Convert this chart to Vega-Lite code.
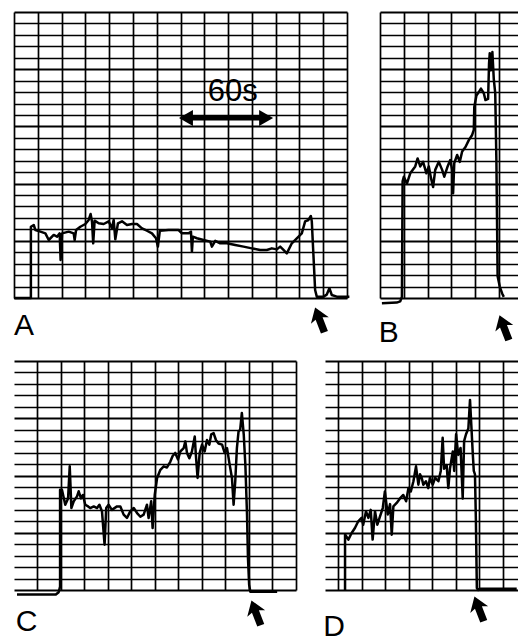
{
"$schema": "https://vega.github.io/schema/vega-lite/v6.json",
"padding": {"left": 12, "top": 12, "right": 0, "bottom": 0},
"background": "white",
"config": {"view": {"stroke": null}, "font": "Liberation Sans"},
"spacing": 12,
"datasets": {
"trace": [
{"panel":"A","x":0,"y":0},{"panel":"A","x":0.71,"y":0},{"panel":"A","x":0.71,"y":6.23},{"panel":"A","x":0.83,"y":6.38},{"panel":"A","x":0.9,"y":5.94},{"panel":"A","x":1.11,"y":5.8},{"panel":"A","x":1.32,"y":5.65},{"panel":"A","x":1.46,"y":5.07},{"panel":"A","x":1.67,"y":5.51},{"panel":"A","x":1.81,"y":5.36},{"panel":"A","x":1.92,"y":5.65},{"panel":"A","x":1.96,"y":3.32},{"panel":"A","x":2.02,"y":5.65},{"panel":"A","x":2.3,"y":5.8},{"panel":"A","x":2.51,"y":5.65},{"panel":"A","x":2.55,"y":5.07},{"panel":"A","x":2.61,"y":5.94},{"panel":"A","x":2.79,"y":6.23},{"panel":"A","x":3.0,"y":6.47},{"panel":"A","x":3.14,"y":6.82},{"panel":"A","x":3.22,"y":7.34},{"panel":"A","x":3.28,"y":6.67},{"panel":"A","x":3.33,"y":4.78},{"panel":"A","x":3.39,"y":6.76},{"panel":"A","x":3.56,"y":6.53},{"panel":"A","x":3.77,"y":6.47},{"panel":"A","x":3.98,"y":6.7},{"panel":"A","x":4.12,"y":6.09},{"panel":"A","x":4.19,"y":6.82},{"panel":"A","x":4.26,"y":5.13},{"panel":"A","x":4.37,"y":6.53},{"panel":"A","x":4.54,"y":6.7},{"panel":"A","x":4.75,"y":6.38},{"panel":"A","x":4.96,"y":6.47},{"panel":"A","x":5.17,"y":6.47},{"panel":"A","x":5.38,"y":6.09},{"panel":"A","x":5.59,"y":5.88},{"panel":"A","x":5.8,"y":5.65},{"panel":"A","x":5.97,"y":5.22},{"panel":"A","x":6.05,"y":4.49},{"panel":"A","x":6.13,"y":5.88},{"panel":"A","x":6.5,"y":5.94},{"panel":"A","x":6.92,"y":5.94},{"panel":"A","x":7.06,"y":5.65},{"panel":"A","x":7.34,"y":5.65},{"panel":"A","x":7.44,"y":5.8},{"panel":"A","x":7.48,"y":4.05},{"panel":"A","x":7.52,"y":5.36},{"panel":"A","x":7.69,"y":5.22},{"panel":"A","x":7.97,"y":5.07},{"panel":"A","x":8.25,"y":4.93},{"panel":"A","x":8.32,"y":4.49},{"panel":"A","x":8.46,"y":5.0},{"panel":"A","x":8.67,"y":4.78},{"panel":"A","x":8.95,"y":4.78},{"panel":"A","x":9.3,"y":4.63},{"panel":"A","x":9.65,"y":4.49},{"panel":"A","x":10.0,"y":4.34},{"panel":"A","x":10.35,"y":4.2},{"panel":"A","x":10.63,"y":4.2},{"panel":"A","x":10.84,"y":4.34},{"panel":"A","x":11.05,"y":4.25},{"panel":"A","x":11.19,"y":4.49},{"panel":"A","x":11.33,"y":4.2},{"panel":"A","x":11.47,"y":3.9},{"panel":"A","x":11.68,"y":4.78},{"panel":"A","x":11.89,"y":5.22},{"panel":"A","x":12.1,"y":5.65},{"panel":"A","x":12.24,"y":6.7},{"panel":"A","x":12.38,"y":6.82},{"panel":"A","x":12.48,"y":7.17},{"panel":"A","x":12.52,"y":6.7},{"panel":"A","x":12.66,"y":0.7},{"panel":"A","x":12.73,"y":0.12},{"panel":"A","x":13.01,"y":0.12},{"panel":"A","x":13.15,"y":0.3},{"panel":"A","x":13.26,"y":0.85},{"panel":"A","x":13.36,"y":0.26},{"panel":"A","x":13.57,"y":0.12},{"panel":"A","x":14.1,"y":0.12},
{"panel":"B","x":0.08,"y":-0.45},{"panel":"B","x":0.7,"y":-0.4},{"panel":"B","x":0.85,"y":-0.3},{"panel":"B","x":0.92,"y":0.1},{"panel":"B","x":0.95,"y":10.2},{"panel":"B","x":1.0,"y":10.6},{"panel":"B","x":1.13,"y":10.0},{"panel":"B","x":1.27,"y":10.9},{"panel":"B","x":1.48,"y":11.5},{"panel":"B","x":1.58,"y":12.2},{"panel":"B","x":1.69,"y":11.5},{"panel":"B","x":1.81,"y":11.9},{"panel":"B","x":1.95,"y":10.9},{"panel":"B","x":2.05,"y":11.5},{"panel":"B","x":2.14,"y":10.5},{"panel":"B","x":2.23,"y":9.7},{"panel":"B","x":2.32,"y":11.2},{"panel":"B","x":2.47,"y":11.9},{"panel":"B","x":2.61,"y":11.2},{"panel":"B","x":2.7,"y":10.6},{"panel":"B","x":2.84,"y":11.5},{"panel":"B","x":2.95,"y":12.06},{"panel":"B","x":3.03,"y":11.2},{"panel":"B","x":3.07,"y":9.15},{"panel":"B","x":3.12,"y":11.8},{"panel":"B","x":3.24,"y":12.5},{"panel":"B","x":3.35,"y":11.9},{"panel":"B","x":3.45,"y":12.8},{"panel":"B","x":3.59,"y":13.2},{"panel":"B","x":3.73,"y":13.8},{"panel":"B","x":3.87,"y":14.25},{"panel":"B","x":3.94,"y":14.7},{"panel":"B","x":3.96,"y":16.7},{"panel":"B","x":4.05,"y":17.7},{"panel":"B","x":4.15,"y":18.0},{"panel":"B","x":4.24,"y":18.3},{"panel":"B","x":4.36,"y":17.9},{"panel":"B","x":4.43,"y":17.3},{"panel":"B","x":4.54,"y":17.4},{"panel":"B","x":4.58,"y":20.5},{"panel":"B","x":4.61,"y":21.4},{"panel":"B","x":4.66,"y":19.9},{"panel":"B","x":4.72,"y":21.5},{"panel":"B","x":4.78,"y":19.1},{"panel":"B","x":4.84,"y":17.9},{"panel":"B","x":4.89,"y":11.8},{"panel":"B","x":4.92,"y":5.9},{"panel":"B","x":4.94,"y":1.9},{"panel":"B","x":5.03,"y":1.0},{"panel":"B","x":5.13,"y":0.4},{"panel":"B","x":5.2,"y":0.1},
{"panel":"C","x":-0.85,"y":-0.4},{"panel":"C","x":0.8,"y":-0.4},{"panel":"C","x":0.92,"y":-0.2},{"panel":"C","x":0.98,"y":0.3},{"panel":"C","x":0.98,"y":8.76},{"panel":"C","x":1.06,"y":8.76},{"panel":"C","x":1.2,"y":7.45},{"panel":"C","x":1.32,"y":8.0},{"panel":"C","x":1.39,"y":10.8},{"panel":"C","x":1.46,"y":7.16},{"panel":"C","x":1.56,"y":7.75},{"panel":"C","x":1.7,"y":8.18},{"panel":"C","x":1.77,"y":8.62},{"panel":"C","x":1.87,"y":8.0},{"panel":"C","x":1.95,"y":8.3},{"panel":"C","x":2.05,"y":7.45},{"panel":"C","x":2.17,"y":7.3},{"panel":"C","x":2.26,"y":7.16},{"panel":"C","x":2.41,"y":7.3},{"panel":"C","x":2.55,"y":7.16},{"panel":"C","x":2.65,"y":7.45},{"panel":"C","x":2.76,"y":6.87},{"panel":"C","x":2.87,"y":3.96},{"panel":"C","x":2.94,"y":7.16},{"panel":"C","x":3.04,"y":7.45},{"panel":"C","x":3.18,"y":7.0},{"panel":"C","x":3.4,"y":7.3},{"panel":"C","x":3.54,"y":7.3},{"panel":"C","x":3.68,"y":6.58},{"panel":"C","x":3.82,"y":6.29},{"panel":"C","x":3.96,"y":6.87},{"panel":"C","x":4.11,"y":7.16},{"panel":"C","x":4.25,"y":6.72},{"panel":"C","x":4.39,"y":6.4},{"panel":"C","x":4.53,"y":6.58},{"panel":"C","x":4.67,"y":7.45},{"panel":"C","x":4.74,"y":6.29},{"panel":"C","x":4.85,"y":7.75},{"panel":"C","x":4.91,"y":5.41},{"panel":"C","x":5.0,"y":8.3},{"panel":"C","x":5.1,"y":9.78},{"panel":"C","x":5.24,"y":10.5},{"panel":"C","x":5.38,"y":10.8},{"panel":"C","x":5.52,"y":10.7},{"panel":"C","x":5.66,"y":11.2},{"panel":"C","x":5.76,"y":11.7},{"panel":"C","x":5.87,"y":11.97},{"panel":"C","x":5.99,"y":11.4},{"panel":"C","x":6.09,"y":12.1},{"panel":"C","x":6.23,"y":12.4},{"panel":"C","x":6.3,"y":12.98},{"panel":"C","x":6.37,"y":11.97},{"panel":"C","x":6.47,"y":11.5},{"panel":"C","x":6.58,"y":12.1},{"panel":"C","x":6.7,"y":13.4},{"panel":"C","x":6.75,"y":11.7},{"panel":"C","x":6.82,"y":9.78},{"panel":"C","x":6.91,"y":11.97},{"panel":"C","x":7.01,"y":12.7},{"panel":"C","x":7.12,"y":12.1},{"panel":"C","x":7.22,"y":13.1},{"panel":"C","x":7.32,"y":12.7},{"panel":"C","x":7.4,"y":13.6},{"panel":"C","x":7.5,"y":13.7},{"panel":"C","x":7.6,"y":13.1},{"panel":"C","x":7.71,"y":12.8},{"panel":"C","x":7.86,"y":12.7},{"panel":"C","x":7.97,"y":11.97},{"panel":"C","x":8.07,"y":12.4},{"panel":"C","x":8.17,"y":11.1},{"panel":"C","x":8.28,"y":9.78},{"panel":"C","x":8.35,"y":7.45},{"panel":"C","x":8.42,"y":9.5},{"panel":"C","x":8.49,"y":12.4},{"panel":"C","x":8.56,"y":13.86},{"panel":"C","x":8.63,"y":14.0},{"panel":"C","x":8.7,"y":15.46},{"panel":"C","x":8.78,"y":13.6},{"panel":"C","x":8.85,"y":10.9},{"panel":"C","x":8.92,"y":6.58},{"panel":"C","x":8.96,"y":2.8},{"panel":"C","x":9.01,"y":0.46},{"panel":"C","x":9.06,"y":-0.15},{"panel":"C","x":10.2,"y":-0.15},
{"panel":"D","x":0.3,"y":0},{"panel":"D","x":0.3,"y":4.85},{"panel":"D","x":0.44,"y":4.4},{"panel":"D","x":0.58,"y":4.98},{"panel":"D","x":0.72,"y":5.41},{"panel":"D","x":0.86,"y":6.0},{"panel":"D","x":1.0,"y":6.3},{"panel":"D","x":1.07,"y":5.7},{"panel":"D","x":1.19,"y":6.87},{"panel":"D","x":1.29,"y":6.3},{"panel":"D","x":1.39,"y":7.0},{"panel":"D","x":1.47,"y":4.4},{"panel":"D","x":1.57,"y":6.87},{"panel":"D","x":1.67,"y":5.7},{"panel":"D","x":1.78,"y":6.4},{"panel":"D","x":1.9,"y":7.16},{"panel":"D","x":1.99,"y":8.6},{"panel":"D","x":2.11,"y":6.6},{"panel":"D","x":2.21,"y":7.5},{"panel":"D","x":2.28,"y":4.83},{"panel":"D","x":2.35,"y":7.3},{"panel":"D","x":2.49,"y":7.6},{"panel":"D","x":2.63,"y":8.0},{"panel":"D","x":2.77,"y":8.3},{"panel":"D","x":2.89,"y":7.75},{"panel":"D","x":2.99,"y":8.9},{"panel":"D","x":3.09,"y":8.6},{"panel":"D","x":3.2,"y":9.5},{"panel":"D","x":3.31,"y":10.8},{"panel":"D","x":3.41,"y":9.2},{"panel":"D","x":3.48,"y":10.1},{"panel":"D","x":3.55,"y":9.8},{"panel":"D","x":3.62,"y":9.2},{"panel":"D","x":3.73,"y":9.5},{"panel":"D","x":3.83,"y":8.9},{"panel":"D","x":3.9,"y":9.8},{"panel":"D","x":4.02,"y":9.2},{"panel":"D","x":4.12,"y":9.8},{"panel":"D","x":4.26,"y":9.5},{"panel":"D","x":4.36,"y":10.4},{"panel":"D","x":4.44,"y":13.3},{"panel":"D","x":4.5,"y":10.6},{"panel":"D","x":4.61,"y":10.9},{"panel":"D","x":4.68,"y":8.9},{"panel":"D","x":4.75,"y":10.6},{"panel":"D","x":4.87,"y":12.1},{"panel":"D","x":4.93,"y":10.4},{"panel":"D","x":5.01,"y":13.6},{"panel":"D","x":5.1,"y":11.8},{"panel":"D","x":5.2,"y":12.4},{"panel":"D","x":5.29,"y":8.0},{"panel":"D","x":5.35,"y":13.0},{"panel":"D","x":5.43,"y":13.6},{"panel":"D","x":5.53,"y":14.1},{"panel":"D","x":5.6,"y":16.6},{"panel":"D","x":5.72,"y":11.8},{"panel":"D","x":5.76,"y":10.4},{"panel":"D","x":5.81,"y":10.1},{"panel":"D","x":5.85,"y":6.0},{"panel":"D","x":5.89,"y":0.17},{"panel":"D","x":5.95,"y":0},{"panel":"D","x":6.02,"y":0.1},{"panel":"D","x":7.58,"y":0.1}
],
"labels": [
{"panel":"A","x":0.0,"y":-3.23,"text":"A"},
{"panel":"B","x":-0.05,"y":-3.85,"text":"B"},
{"panel":"C","x":-0.9,"y":-3.58,"text":"C"},
{"panel":"D","x":-0.62,"y":-4.0,"text":"D"}
],
"arrows": [
{"panel":"A","x":12.85,"y":-1.92},
{"panel":"B","x":5.21,"y":-2.6},
{"panel":"C","x":9.3,"y":-2.0},
{"panel":"D","x":5.98,"y":-1.66}
],
"scalebar": [{"x":7.35,"x2":10.5,"y":15.73}],
"scaleheads": [{"x":7.23,"y":15.73,"dir":"left"},{"x":10.6,"y":15.73,"dir":"right"}],
"scaletext": [{"x":9.2,"y":18.05,"text":"60s"}]
},
"vconcat": [
{"bounds": "flush", "spacing": 33, "hconcat": [
{"width": 333, "height": 286,
 "encoding": {
  "x": {"field":"x","type":"quantitative","scale":{"domain":[0,14],"nice":false,"zero":false},"axis":{"values":[0,1,2,3,4,5,6,7,8,9,10,11,12,13,14],"grid":true,"gridColor":"black","gridOpacity":1,"gridWidth":1.7,"labels":false,"ticks":false,"domain":false,"title":null}},
  "y": {"field":"y","type":"quantitative","scale":{"domain":[0,25],"nice":false,"zero":false},"axis":{"values":[0,1,2,3,4,5,6,7,8,9,10,11,12,13,14,15,16,17,18,19,20,21,22,23,24,25],"grid":true,"gridColor":"black","gridOpacity":1,"gridWidth":{"condition":{"test":"datum.value % 5 === 0","value":2.2},"value":1.3},"labels":false,"ticks":false,"domain":false,"title":null}}
 },
 "layer": [
  {"data":{"name":"trace"},"transform":[{"filter":"datum.panel === 'A'"}],"mark":{"type":"line","color":"black","strokeWidth":2.5,"clip":false,"strokeJoin":"round"},"encoding":{"order":{"value":null}}},
  {"data":{"name":"labels"},"transform":[{"filter":"datum.panel === 'A'"}],"mark":{"type":"text","fontSize":30,"align":"left","baseline":"alphabetic","color":"black","font":"Liberation Sans"},"encoding":{"text":{"field":"text"}}},
  {"data":{"name":"arrows"},"transform":[{"filter":"datum.panel === 'A'"}],"mark":{"type":"point","shape":"M0,-1 L0.72,0.05 L0.28,-0.12 L0.3,1 L-0.26,1 L-0.28,-0.12 L-0.72,0.05 Z","filled":true,"color":"black","opacity":1,"size":700,"angle":-20,"clip":false}},
  {"data":{"name":"scalebar"},"mark":{"type":"rule","color":"black","strokeWidth":5},"encoding":{"x2":{"field":"x2"}}},
  {"data":{"name":"scaleheads"},"mark":{"type":"point","filled":true,"color":"black","opacity":1,"size":260},"encoding":{"shape":{"field":"dir","type":"nominal","scale":{"domain":["left","right"],"range":["triangle-left","triangle-right"]},"legend":null}}},
  {"data":{"name":"scaletext"},"mark":{"type":"text","fontSize":31,"align":"center","baseline":"middle","color":"black","font":"Liberation Sans"},"encoding":{"text":{"field":"text"}}}
 ]
},
{"width": 140, "height": 286,
 "encoding": {
  "x": {"field":"x","type":"quantitative","scale":{"domain":[0,5.88],"nice":false,"zero":false},"axis":{"values":[0,1,2,3,4,5],"grid":true,"gridColor":"black","gridOpacity":1,"gridWidth":1.7,"labels":false,"ticks":false,"domain":false,"title":null}},
  "y": {"field":"y","type":"quantitative","scale":{"domain":[0,25],"nice":false,"zero":false},"axis":{"values":[0,1,2,3,4,5,6,7,8,9,10,11,12,13,14,15,16,17,18,19,20,21,22,23,24,25],"grid":true,"gridColor":"black","gridOpacity":1,"gridWidth":{"condition":{"test":"datum.value % 5 === 0","value":2.2},"value":1.3},"labels":false,"ticks":false,"domain":false,"title":null}}
 },
 "layer": [
  {"data":{"name":"trace"},"transform":[{"filter":"datum.panel === 'B'"}],"mark":{"type":"line","color":"black","strokeWidth":2.5,"clip":false,"strokeJoin":"round"},"encoding":{"order":{"value":null}}},
  {"data":{"name":"labels"},"transform":[{"filter":"datum.panel === 'B'"}],"mark":{"type":"text","fontSize":30,"align":"left","baseline":"alphabetic","color":"black","font":"Liberation Sans"},"encoding":{"text":{"field":"text"}}},
  {"data":{"name":"arrows"},"transform":[{"filter":"datum.panel === 'B'"}],"mark":{"type":"point","shape":"M0,-1 L0.72,0.05 L0.28,-0.12 L0.3,1 L-0.26,1 L-0.28,-0.12 L-0.72,0.05 Z","filled":true,"color":"black","opacity":1,"size":700,"angle":-20,"clip":false}}
 ]
}
]},
{"bounds": "flush", "spacing": 29, "hconcat": [
{"width": 282, "height": 229,
 "encoding": {
  "x": {"field":"x","type":"quantitative","scale":{"domain":[-0.977,11],"nice":false,"zero":false},"axis":{"values":[0,1,2,3,4,5,6,7,8,9,10,11],"grid":true,"gridColor":"black","gridOpacity":1,"gridWidth":1.7,"labels":false,"ticks":false,"domain":false,"title":null}},
  "y": {"field":"y","type":"quantitative","scale":{"domain":[0,20],"nice":false,"zero":false},"axis":{"values":[0,1,2,3,4,5,6,7,8,9,10,11,12,13,14,15,16,17,18,19,20],"grid":true,"gridColor":"black","gridOpacity":1,"gridWidth":{"condition":{"test":"datum.value % 5 === 0","value":2.2},"value":1.3},"labels":false,"ticks":false,"domain":false,"title":null}}
 },
 "layer": [
  {"data":{"name":"trace"},"transform":[{"filter":"datum.panel === 'C'"}],"mark":{"type":"line","color":"black","strokeWidth":2.5,"clip":false,"strokeJoin":"round"},"encoding":{"order":{"value":null}}},
  {"data":{"name":"labels"},"transform":[{"filter":"datum.panel === 'C'"}],"mark":{"type":"text","fontSize":30,"align":"left","baseline":"alphabetic","color":"black","font":"Liberation Sans"},"encoding":{"text":{"field":"text"}}},
  {"data":{"name":"arrows"},"transform":[{"filter":"datum.panel === 'C'"}],"mark":{"type":"point","shape":"M0,-1 L0.72,0.05 L0.28,-0.12 L0.3,1 L-0.26,1 L-0.28,-0.12 L-0.72,0.05 Z","filled":true,"color":"black","opacity":1,"size":700,"angle":-20,"clip":false}}
 ]
},
{"width": 195, "height": 229,
 "encoding": {
  "x": {"field":"x","type":"quantitative","scale":{"domain":[-0.55,7.72],"nice":false,"zero":false},"axis":{"values":[0,1,2,3,4,5,6,7],"grid":true,"gridColor":"black","gridOpacity":1,"gridWidth":1.7,"labels":false,"ticks":false,"domain":false,"title":null}},
  "y": {"field":"y","type":"quantitative","scale":{"domain":[0,20],"nice":false,"zero":false},"axis":{"values":[0,1,2,3,4,5,6,7,8,9,10,11,12,13,14,15,16,17,18,19,20],"grid":true,"gridColor":"black","gridOpacity":1,"gridWidth":{"condition":{"test":"datum.value % 5 === 0","value":2.2},"value":1.3},"labels":false,"ticks":false,"domain":false,"title":null}}
 },
 "layer": [
  {"data":{"name":"trace"},"transform":[{"filter":"datum.panel === 'D'"}],"mark":{"type":"line","color":"black","strokeWidth":2.5,"clip":false,"strokeJoin":"round"},"encoding":{"order":{"value":null}}},
  {"data":{"name":"labels"},"transform":[{"filter":"datum.panel === 'D'"}],"mark":{"type":"text","fontSize":30,"align":"left","baseline":"alphabetic","color":"black","font":"Liberation Sans"},"encoding":{"text":{"field":"text"}}},
  {"data":{"name":"arrows"},"transform":[{"filter":"datum.panel === 'D'"}],"mark":{"type":"point","shape":"M0,-1 L0.72,0.05 L0.28,-0.12 L0.3,1 L-0.26,1 L-0.28,-0.12 L-0.72,0.05 Z","filled":true,"color":"black","opacity":1,"size":700,"angle":-20,"clip":false}}
 ]
}
]}
]
}
